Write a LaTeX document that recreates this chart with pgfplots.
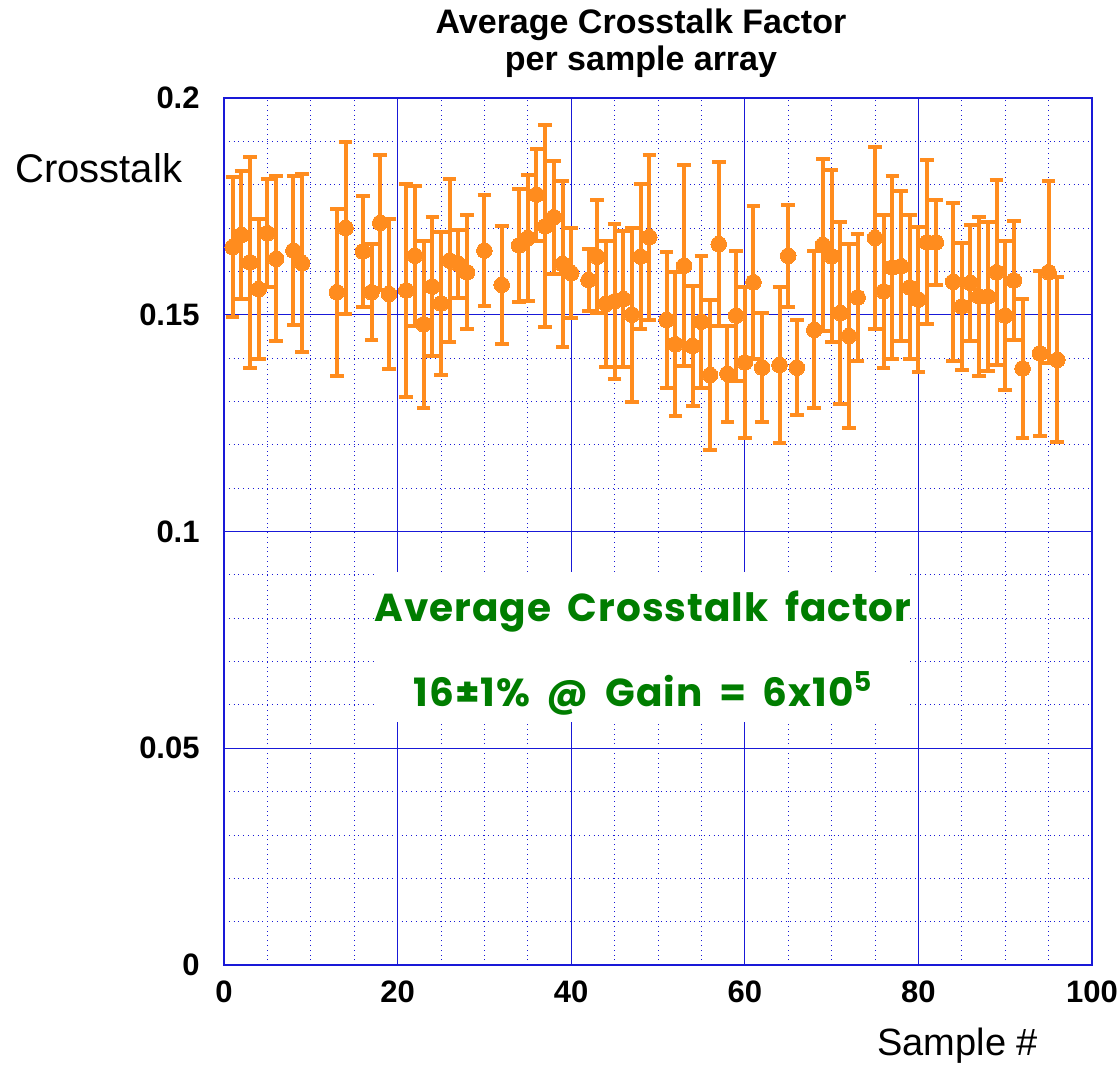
\documentclass[border=0pt]{standalone}
\usepackage{pgfplots}
\pgfplotsset{compat=1.18}
\usepackage{pgfplotstable}
\usepackage{fontspec}
\setmainfont{Liberation Sans}
\newfontfamily\comicfont[LetterSpace=2.5,WordSpace=1.8]{Poppins}
\definecolor{xorange}{RGB}{255,140,30}
\definecolor{xgreen}{RGB}{0,125,0}
\definecolor{xblue}{RGB}{25,25,215}

\pgfplotstableread{
n v e
1 0.1656 0.0161
2 0.1684 0.0148
3 0.1621 0.0243
4 0.1559 0.0162
5 0.1688 0.0125
6 0.1629 0.0190
8 0.1648 0.0171
9 0.1619 0.0206
13 0.1552 0.0193
14 0.1700 0.0198
16 0.1646 0.0127
17 0.1552 0.0111
18 0.1712 0.0156
19 0.1548 0.0174
21 0.1556 0.0245
22 0.1636 0.0162
23 0.1478 0.0193
24 0.1565 0.0160
25 0.1526 0.0164
26 0.1625 0.0188
27 0.1617 0.0079
28 0.1598 0.0131
30 0.1648 0.0128
32 0.1569 0.0136
34 0.1660 0.0131
35 0.1677 0.0145
36 0.1777 0.0106
37 0.1704 0.0233
38 0.1725 0.0130
39 0.1617 0.0192
40 0.1596 0.0103
42 0.1580 0.0071
43 0.1634 0.0131
44 0.1525 0.0145
45 0.1531 0.0179
46 0.1536 0.0157
47 0.1500 0.0201
48 0.1634 0.0167
49 0.1679 0.0190
51 0.1488 0.0157
52 0.1432 0.0166
53 0.1613 0.0232
54 0.1428 0.0138
55 0.1484 0.0152
56 0.1361 0.0172
57 0.1663 0.0189
58 0.1364 0.0111
59 0.1498 0.0150
60 0.1390 0.0174
61 0.1575 0.0176
62 0.1378 0.0126
64 0.1384 0.0179
65 0.1636 0.0117
66 0.1378 0.0110
68 0.1465 0.0181
69 0.1661 0.0199
70 0.1635 0.0199
71 0.1504 0.0211
72 0.1451 0.0212
73 0.1540 0.0146
75 0.1677 0.0209
76 0.1554 0.0177
77 0.1609 0.0210
78 0.1612 0.0173
79 0.1563 0.0166
80 0.1535 0.0168
81 0.1667 0.0189
82 0.1667 0.0098
84 0.1576 0.0182
85 0.1519 0.0147
86 0.1573 0.0134
87 0.1542 0.0183
88 0.1542 0.0171
89 0.1598 0.0213
90 0.1498 0.0171
91 0.1579 0.0138
92 0.1376 0.0161
94 0.1411 0.0190
95 0.1598 0.0210
96 0.1396 0.0190
}\xtalk

\begin{document}
\begin{tikzpicture}
\begin{axis}[
  at={(0,0)}, anchor=south west,
  width=434pt, height=433.5pt, scale only axis,
  xmin=0, xmax=100, ymin=0, ymax=0.2,
  xtick={0,20,40,60,80,100},
  xticklabels={0,20,40,60,80,100},
  ytick={0,0.05,0.1,0.15,0.2},
  yticklabels={0,0.05,0.1,0.15,0.2},
  minor x tick num=3,
  minor y tick num=4,
  grid=both,
  major grid style={xblue, line width=0.5pt},
  minor grid style={xblue, dotted, line width=0.45pt},
  axis line style={xblue, line width=0.7pt},
  tick style={draw=none},
  ticklabel style={font=\fontsize{15.5}{18}\selectfont\bfseries},
  yticklabel style={anchor=east, inner sep=0pt, xshift=-12pt},
  xticklabel style={anchor=north, inner sep=0pt, yshift=-7.5pt},
]
\addplot[only marks, mark=*, mark size=3.9pt, color=xorange,
  mark options={fill=xorange, draw=xorange, line width=0pt},
  error bars/.cd, y dir=both, y explicit,
  error bar style={line width=2pt, color=xorange},
  error mark options={rotate=90, mark size=3.4pt, line width=2pt, color=xorange}]
  table[x=n, y=v, y error=e] {\xtalk};
\end{axis}
\begin{scope}[shift={(-112pt,482.5pt)}, x=0.5pt, y=-0.5pt]
  \node[anchor=base, inner sep=0pt, font=\fontsize{17}{19}\selectfont\bfseries] at (641,34)
    {Average Crosstalk Factor};
  \node[anchor=base, inner sep=0pt, font=\fontsize{17}{19}\selectfont\bfseries] at (641,71)
    {per sample array};
  \node[anchor=base west, inner sep=0pt, font=\fontsize{20}{24}\selectfont] at (15,183) {Crosstalk};
  \node[anchor=base west, inner sep=0pt, font=\fontsize{19}{22}\selectfont] at (877,1055) {Sample \#};
  \fill[white] (374,572) rectangle (910,722);
  \node[anchor=base, inner sep=0pt, text=xgreen, font=\comicfont\bfseries\fontsize{19.5}{22}\selectfont] at (643,622)
    {Average Crosstalk factor};
  \node[anchor=base, inner sep=0pt, text=xgreen, font=\comicfont\bfseries\fontsize{19.5}{22}\selectfont] at (643,707)
    {16±1\% @ Gain = 6x10\textsuperscript{5}};
  \pgfresetboundingbox
  \path[use as bounding box] (0,0) rectangle (1120,1067);
\end{scope}
\end{tikzpicture}
\end{document}
